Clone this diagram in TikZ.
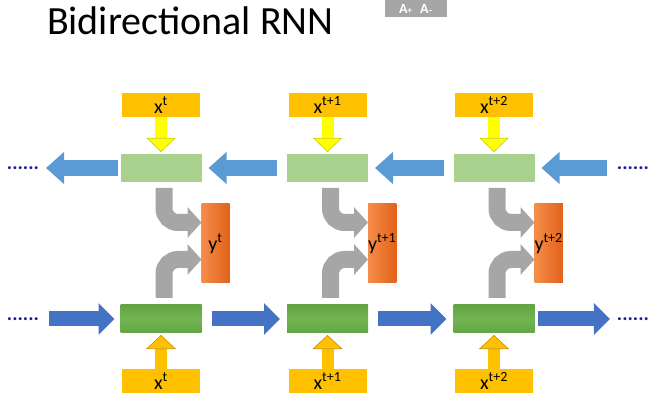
\documentclass[tikz,border=0pt]{standalone}
\usepackage{fontspec}
\setmainfont{Carlito}
\usetikzlibrary{arrows.meta,calc}

\definecolor{boxgold}{HTML}{FFC000}
\definecolor{goldline}{HTML}{C59200}
\definecolor{brightyellow}{HTML}{FFFF00}
\definecolor{paleGreen}{HTML}{A9D18E}
\definecolor{leafEdge}{HTML}{62A542}
\definecolor{leafMid}{HTML}{74B553}
\definecolor{skyBlue}{HTML}{5B9BD5}
\definecolor{deepBlue}{HTML}{4472C4}
\definecolor{stoneGray}{HTML}{A6A6A6}
\definecolor{orangeLight}{HTML}{F58D4A}
\definecolor{orangeDark}{HTML}{E2621A}
\definecolor{dotBlue}{HTML}{1C1C96}

\tikzstyle{every node}=[inner sep=0pt, outer sep=0pt]
\tikzstyle{inbox}=[rectangle, fill=boxgold, minimum width=78pt, minimum height=24pt, font=\fontsize{20}{22}\selectfont]
\tikzstyle{bwdcell}=[rectangle, fill=paleGreen, minimum width=81pt, minimum height=28pt]
\tikzstyle{fwdcell}=[rectangle, top color=leafEdge, bottom color=leafEdge, middle color=leafMid, minimum width=81pt, minimum height=28pt]
\tikzstyle{outbox}=[rectangle, left color=orangeLight, right color=orangeDark, minimum width=28pt, minimum height=79pt, font=\fontsize{20}{22}\selectfont]
\tikzstyle{dotsnode}=[text=dotBlue, font=\fontsize{20}{22}\selectfont\bfseries]
\tikzstyle{bwdflow}=[line width=16pt, skyBlue, -{Triangle[width=31pt,length=18pt]}, shorten <=10pt, shorten >=7pt]
\tikzstyle{fwdflow}=[line width=15pt, deepBlue, -{Triangle[width=31pt,length=16pt]}, shorten <=10pt, shorten >=7pt]
\tikzstyle{feeddown}=[line width=12pt, brightyellow, -{Triangle[width=29pt,length=14pt,fill=brightyellow,color=brightyellow!80!black,line width=0.6pt]}, shorten >=2pt]
\tikzstyle{feedup}=[line width=12pt, boxgold, -{Triangle[width=30pt,length=14pt,fill=boxgold,color=goldline,line width=0.6pt]}, shorten >=2pt]
\tikzstyle{merge}=[line width=17pt, stoneGray, rounded corners=14pt, -{Triangle[width=30pt,length=14pt]}]

\begin{document}
\begin{tikzpicture}[x=1pt, y=-1pt]
\useasboundingbox (0,0) rectangle (657,401);

\node [anchor=base west, font=\fontsize{40}{44}\selectfont] (title) at (47,35) {Bidirectional RNN};
\node [anchor=north west, fill=stoneGray, minimum width=62pt, minimum height=17pt, text=white, font=\fontsize{14}{15}\selectfont\bfseries] (zoombtn) at (385,0) {A{\fontsize{9}{10}\selectfont+}\hspace{8pt}A{\fontsize{9}{10}\selectfont--}};

% backward layer (top)
\node [bwdcell] (b1) at (161,168) {};
\node [bwdcell, right of=b1, node distance=166.5pt] (b2) {};
\node [bwdcell, right of=b2, node distance=166.5pt] (b3) {};

% forward layer (bottom)
\node [fwdcell, below of=b1, node distance=151pt] (f1) {};
\node [fwdcell, right of=f1, node distance=166.5pt] (f2) {};
\node [fwdcell, right of=f2, node distance=166.5pt] (f3) {};

% inputs
\node [inbox, above of=b1, node distance=63pt] (xt1) {x\textsuperscript{t}};
\node [inbox, above of=b2, node distance=63pt] (xt2) {x\textsuperscript{t+1}};
\node [inbox, above of=b3, node distance=63pt] (xt3) {x\textsuperscript{t+2}};
\node [inbox, below of=f1, node distance=62pt] (xb1) {x\textsuperscript{t}};
\node [inbox, below of=f2, node distance=62pt] (xb2) {x\textsuperscript{t+1}};
\node [inbox, below of=f3, node distance=62pt] (xb3) {x\textsuperscript{t+2}};

% outputs
\node [outbox, anchor=west] (y1) at ($(b1.east)!0.5!(f1.east)$) {y\textsuperscript{t}};
\node [outbox, anchor=west] (y2) at ($(b2.east)!0.5!(f2.east)$) {y\textsuperscript{t+1}};
\node [outbox, anchor=west] (y3) at ($(b3.east)!0.5!(f3.east)$) {y\textsuperscript{t+2}};

% dots
\node [dotsnode, left of=b1, node distance=138pt] (dl1) {......};
\node [dotsnode, right of=b3, node distance=139pt] (dr1) {......};
\node [dotsnode, left of=f1, node distance=138pt] (dl2) {......};
\node [dotsnode, right of=f3, node distance=139pt] (dr2) {......};

\draw [bwdflow] (dr1) -- (b3);
\draw [bwdflow] (b3) -- (b2);
\draw [bwdflow] (b2) -- (b1);
\draw [bwdflow, shorten <=3pt] (b1) -- (dl1);

\draw [fwdflow, shorten >=6pt] (dl2) -- (f1);
\draw [fwdflow] (f1) -- (f2);
\draw [fwdflow] (f2) -- (f3);
\draw [fwdflow, shorten <=3pt] (f3) -- (dr2);

\foreach \i in {1,2,3} {
	\draw [feeddown] (xt\i.south) -- (b\i.north);
	\draw [feedup] (xb\i.north) -- (f\i.south);
	\draw [merge] ([xshift=3pt,yshift=-6pt]b\i.south) |- ([yshift=21pt]y\i.west);
	\draw [merge] ([xshift=3pt,yshift=7pt]f\i.north) |- ([yshift=-16pt]y\i.west);
}

\end{tikzpicture}
\end{document}
